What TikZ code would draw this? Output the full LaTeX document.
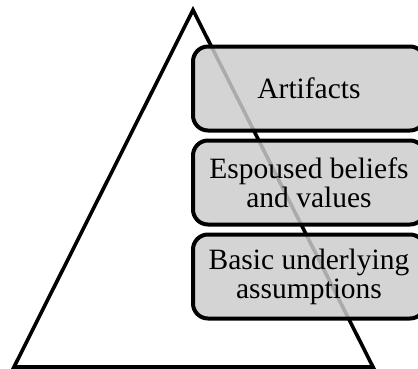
\documentclass[tikz,border=0pt]{standalone}
\usepackage{fontspec}
\setmainfont{Liberation Serif}
\usetikzlibrary{positioning}

\begin{document}
\begin{tikzpicture}[x=1pt,y=1pt,node distance=6pt,
  level/.style={draw,line width=4pt,fill=black!20,fill opacity=0.84,text opacity=1,
    rounded corners=15pt,minimum width=232pt,minimum height=84pt,align=center,
    font=\fontsize{29.5}{29}\selectfont}]
  \clip (0,0) rectangle (418,368);
  \coordinate (apex) at (193,358);
  \coordinate (bl) at (14,1);
  \coordinate (br) at (373,1);
  \draw[line width=3.6pt,line join=miter] (apex)--(br)--(bl)--cycle;
  \node[level] (art) at (309,279.5) {Artifacts};
  \node[level,below=of art] (esp) {Espoused beliefs\\and values};
  \node[level,below=of esp] (bua) {Basic underlying\\assumptions};
\end{tikzpicture}
\end{document}
